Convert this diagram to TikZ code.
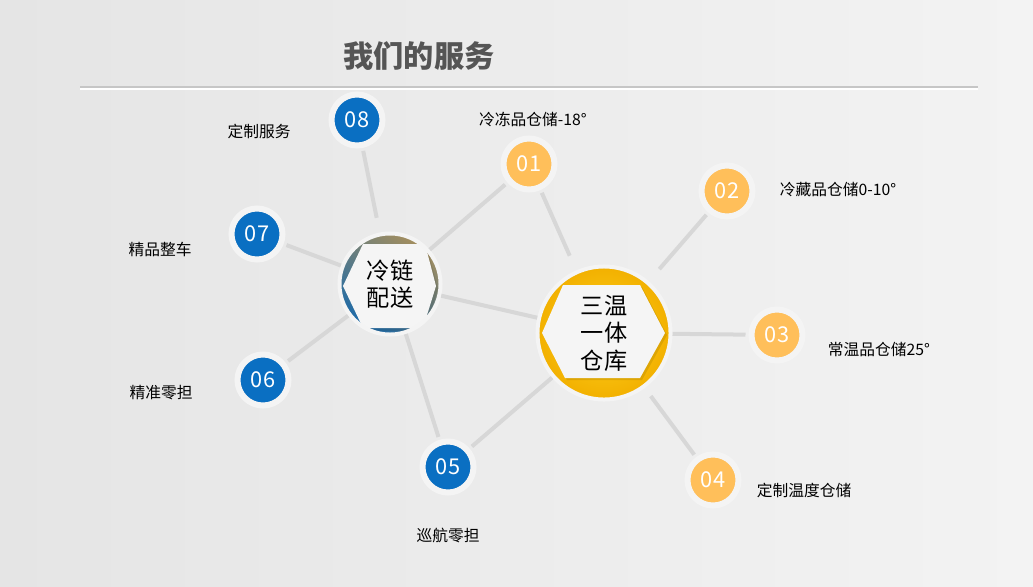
\documentclass[tikz,border=0pt]{standalone}
\usepackage{fontspec}
\setmainfont{Noto Sans CJK SC}

\definecolor{bgleft}{HTML}{E5E5E5}
\definecolor{bgright}{HTML}{F3F3F3}
\definecolor{titlegray}{HTML}{555555}
\definecolor{rulegray}{HTML}{C6C6C6}
\definecolor{spokegray}{HTML}{D7D7D7}
\definecolor{halo}{HTML}{F4F4F4}
\definecolor{numblue}{HTML}{0A6FC2}
\definecolor{numorange}{HTML}{FFBF5A}
\definecolor{hexwhite}{HTML}{F5F5F5}
\definecolor{ringlight}{HTML}{FFD21E}
\definecolor{ringdark}{HTML}{F2B000}
\definecolor{coldblue}{HTML}{1D6AA8}
\definecolor{coldteal}{HTML}{2B6C92}
\definecolor{coldgold}{HTML}{A48E5E}

\begin{document}
\begin{tikzpicture}[x=0.025cm, y=-0.025cm,
    num/.style={circle, minimum size=1.275cm, inner sep=0pt, draw=halo, line width=0.15cm,
      text=white, font=\fontsize{15.5}{15.5}\selectfont},
    bluenum/.style={num, fill=numblue},
    orangenum/.style={num, fill=numorange},
    lbl/.style={font=\fontsize{11.2}{13}\selectfont, text=black, inner sep=0pt},
    spoke/.style={draw=spokegray, line width=0.1cm, shorten <=0.075cm},
    hub/.style={circle, inner sep=0pt, draw=halo, line width=0.1cm,
      align=center, text=black, font=\fontsize{16.5}{19.5}\selectfont},
    hexshade/.style={fill=black, opacity=0.09},
    coldring/.style={top color=coldgold, middle color=coldteal, bottom color=coldblue, shading angle=-35},
    storering/.style={inner color=ringlight, outer color=ringdark}]
  \useasboundingbox (0,0) rectangle (1033,586);
  \shade[left color=bgleft, right color=bgright] (0,0) rectangle (1033,586);

  % Title
  \node[font=\fontsize{21.5}{22}\selectfont\bfseries, text=titlegray] (title) at (419,56) {我们的服务};
  \draw[rulegray, line width=0.04cm] (80,87) -- (978,87);
  \draw[white, line width=0.03cm] (80,89) -- (978,89);

  % Hub rings and hexagons
  \coordinate (chainc) at (390,284);
  \coordinate (depotc) at (604,333);
  \begin{scope}
    \clip (chainc) circle[radius=1.26cm];
    \shade[coldring] (chainc) circle[radius=1.26cm];
    \fill[hexshade, shift={(chainc)}]
      (-45,5) -- (-25,-37) -- (37,-37) -- (48,5) -- (35,47) -- (-25,47) -- cycle;
    \fill[hexwhite, shift={(chainc)}]
      (-47,2) -- (-27,-40) -- (35,-40) -- (46,2) -- (33,44) -- (-27,44) -- cycle;
  \end{scope}
  \begin{scope}
    \clip (depotc) circle[radius=1.66cm];
    \shade[storering] (depotc) circle[radius=1.66cm];
    \fill[hexshade, shift={(depotc)}]
      (-60,2) -- (-39,-46) -- (38,-46) -- (63,2) -- (38,47) -- (-37,47) -- cycle;
    \fill[hexwhite, shift={(depotc)}]
      (-62,0) -- (-41,-48) -- (36,-48) -- (61,0) -- (36,45) -- (-39,45) -- cycle;
  \end{scope}

  % Hubs
  \node[hub, minimum size=2.525cm] (chain) at (chainc) {冷链\\配送};
  \node[hub, minimum size=3.325cm] (depot) at (depotc) {三温\\一体\\仓库};

  % Numbers
  \node[orangenum] (n01) at (529,164) {01};
  \node[orangenum] (n02) at (727,191) {02};
  \node[orangenum] (n03) at (777,335) {03};
  \node[orangenum] (n04) at (713,480) {04};
  \node[bluenum] (n05) at (448,467) {05};
  \node[bluenum] (n06) at (263,380) {06};
  \node[bluenum] (n07) at (257,234) {07};
  \node[bluenum] (n08) at (357,120) {08};

  % Labels
  \node[lbl] (l01) at (533,119) {冷冻品仓储-18°};
  \node[lbl] (l02) at (838,190) {冷藏品仓储0-10°};
  \node[lbl] (l03) at (879,349) {常温品仓储25°};
  \node[lbl] (l04) at (804,490) {定制温度仓储};
  \node[lbl] (l05) at (448,535) {巡航零担};
  \node[lbl] (l06) at (161,393) {精准零担};
  \node[lbl] (l07) at (160,249) {精品整车};
  \node[lbl] (l08) at (259,131) {定制服务};

  % Spokes
  \draw[spoke, shorten >=0.375cm] (n08) -- (chain);
  \draw[spoke] (n07) -- (chain);
  \draw[spoke] (n06) -- (chain);
  \draw[spoke] (n05) -- (chain);
  \draw[spoke] (n01) -- (chain);
  \draw[spoke, shorten <=0pt] (chain) -- (depot);
  \draw[spoke, shorten >=0.4cm] (n01) -- (depot);
  \draw[spoke, shorten >=0.4cm] (n02) -- (depot);
  \draw[spoke] (n03) -- (depot);
  \draw[spoke, shorten >=0.25cm] (n04) -- (depot);
  \draw[spoke] (n05) -- (depot);
\end{tikzpicture}
\end{document}
